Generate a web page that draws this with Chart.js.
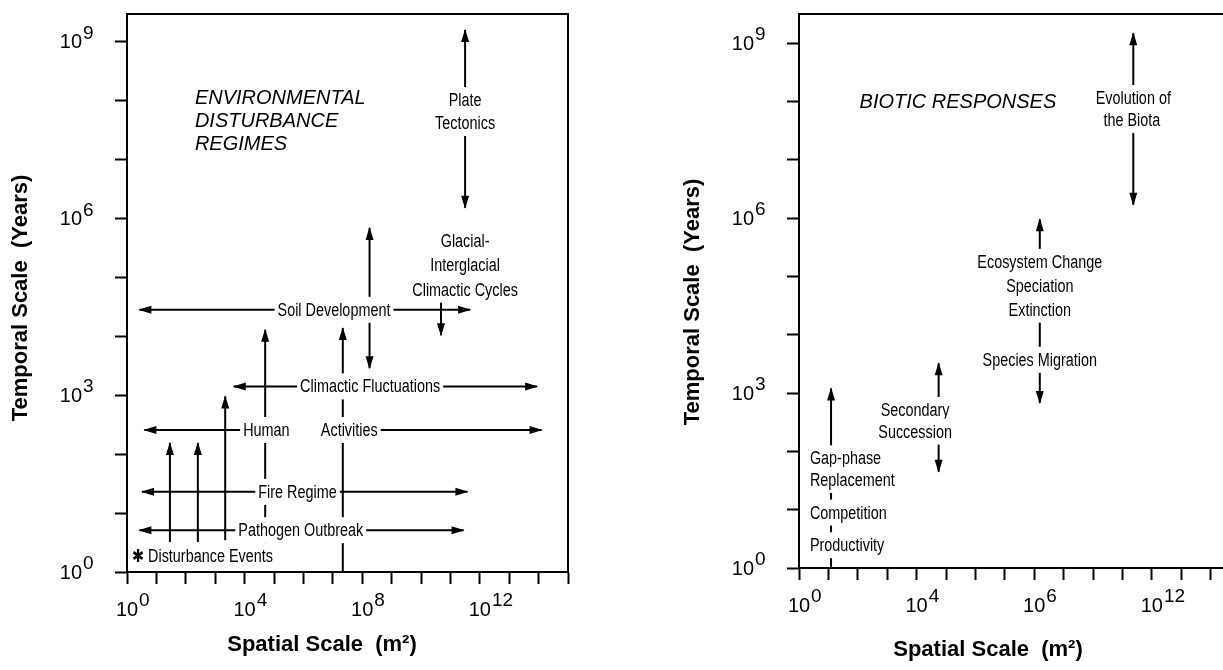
<!DOCTYPE html>
<html>
<head>
<meta charset="utf-8">
<script src="https://cdn.jsdelivr.net/npm/chart.js@4/dist/chart.umd.min.js"></script>
<style>
  html, body { margin: 0; padding: 0; background: #fff; overflow: hidden; }
  #wrap { position: relative; width: 1223px; height: 670px; overflow: hidden; background: #fff; }
  canvas { position: absolute; top: 0; }
  #envChart { left: 0; }
  #bioChart { left: 612px; }
</style>
</head>
<body>
<div id="wrap">
  <canvas id="envChart" width="612" height="670"></canvas>
  <canvas id="bioChart" width="680" height="670"></canvas>
</div>
<script>
// every value below is a log10: x = spatial scale (m²), y = temporal scale (years)

// axes
const xDecades = [0, 1, 2, 3, 4, 5, 6, 7, 8, 9, 10, 11, 12, 13, 14, 15];
const yDecades = [0, 1, 2, 3, 4, 5, 6, 7, 8, 9];
const xLabelPowers = [0, 4, 8, 12];
const envXLabelText = ['0', '4', '8', '12'];
const bioXLabelText = ['0', '4', '6', '12']; // printed this way in the original
const yLabelPowers = [0, 3, 6, 9];
const yLabelText = ['0', '3', '6', '9'];
const envYTop = 9.47;
const bioYTop = 9.5;

// left panel: environmental disturbance regimes
const plateArrow = [[11.5, 6.18], [11.5, 9.2]];
const glacialArrow = [[10.68, 4.59], [10.68, 4.02]];
const soilArrow = [[0.42, 4.45], [11.67, 4.45]];
const soilVertArrow = [[8.25, 3.46], [8.25, 5.84]];
const climateArrow = [[3.63, 3.15], [13.95, 3.15]];
const humanLeftArrow = [[4.74, 2.41], [0.59, 2.41]];
const humanRightArrow = [[7.56, 2.41], [14.1, 2.41]];
const humanVertArrow = [[4.7, 0.41], [4.7, 4.11]];
const activityVertArrow = [[7.34, 0], [7.34, 4.14]];
const fireArrow = [[0.51, 1.36], [11.58, 1.36]];
const pathogenArrow = [[0.42, 0.71], [11.45, 0.71]];
const eventArrowA = [[1.46, 0.51], [1.46, 2.19]];
const eventArrowB = [[2.41, 0.51], [2.41, 2.19]];
const eventArrowC = [[3.34, 0.54], [3.34, 2.98]];

const envLabels = [
    ['Plate', 11.5, 8.01], ['Tectonics', 11.5, 7.62],
    ['Glacial-', 11.5, 5.61], ['Interglacial', 11.5, 5.21], ['Climactic Cycles', 11.5, 4.79],
    ['Soil Development', 7.04, 4.45],
    ['Climactic Fluctuations', 8.27, 3.15],
    ['Human', 4.74, 2.41], ['Activities', 7.56, 2.41],
    ['Fire Regime', 5.8, 1.36],
    ['Pathogen Outbreak', 5.91, 0.71],
    ['\u2731 Disturbance Events', 0.17, 0.27, 'left']
];
const envTitle = ['ENVIRONMENTAL', 'DISTURBANCE', 'REGIMES'];
const envTitleY = [8.05, 7.66, 7.28];
const envTitleX = 2.31;

// right panel: biotic responses
const evolutionArrow = [[11.37, 6.23], [11.37, 9.17]];
const ecosystemArrow = [[8.19, 2.83], [8.19, 5.98]];
const successionArrow = [[4.75, 1.65], [4.75, 3.51]];
const gapArrow = [[1.09, 0], [1.09, 3.08]];

const bioLabels = [
    ['Evolution of', 11.37, 8.06], ['the Biota', 11.32, 7.68],
    ['Ecosystem Change', 8.19, 5.25], ['Speciation', 8.19, 4.83], ['Extinction', 8.19, 4.43],
    ['Species Migration', 8.19, 3.57],
    ['Secondary', 3.95, 2.71], ['Succession', 3.95, 2.34],
    ['Gap-phase', 0.37, 1.88, 'left'], ['Replacement', 0.37, 1.51, 'left'],
    ['Competition', 0.37, 0.95, 'left'], ['Productivity', 0.37, 0.39, 'left']
];
const bioTitle = ['BIOTIC RESPONSES'];
const bioTitleY = [8.0];
const bioTitleX = 2.06;

const FONT = '"Liberation Sans", Arial, Helvetica, "DejaVu Sans", sans-serif';
const SQUEEZE = 0.8; // the labels are set in a condensed face

function arrowSet(points, head) {
    return {
        data: points.map(p => ({ x: 10 ** p[0], y: 10 ** p[1] })),
        head: head,
        showLine: true,
        borderColor: '#000',
        borderWidth: 2,
        pointRadius: 0,
        fill: false,
        tension: 0
    };
}

function drawHead(ctx, from, to) {
    const dx = to.x - from.x, dy = to.y - from.y;
    const len = Math.hypot(dx, dy) || 1;
    const ux = dx / len, uy = dy / len;
    ctx.beginPath();
    ctx.moveTo(to.x + ux, to.y + uy);
    ctx.lineTo(to.x - ux * 12 - uy * 4, to.y - uy * 12 + ux * 4);
    ctx.lineTo(to.x - ux * 12 + uy * 4, to.y - uy * 12 - ux * 4);
    ctx.closePath();
    ctx.fill();
}

function drawLabel(ctx, text, x, y, align) {
    ctx.font = '18px ' + FONT;
    const w = ctx.measureText(text).width * SQUEEZE;
    const x0 = align === 'left' ? x : x - w / 2;
    ctx.fillStyle = '#fff';
    ctx.fillRect(x0 - 3, y - 13, w + 6, 26);
    ctx.fillStyle = '#000';
    ctx.save();
    ctx.translate(x0, y + 1);
    ctx.scale(SQUEEZE, 1);
    ctx.textAlign = 'left';
    ctx.textBaseline = 'middle';
    ctx.fillText(text, 0, 0);
    ctx.restore();
}

function drawPower(ctx, exp, x, y, anchor) {
    ctx.font = '20px ' + FONT;
    ctx.textAlign = 'left';
    ctx.textBaseline = 'middle';
    const bw = ctx.measureText('10').width;
    const bx = anchor === 'right' ? x - bw : x - bw / 2;
    ctx.fillText('10', bx, y);
    ctx.font = '19px ' + FONT;
    ctx.fillText(exp, bx + bw + 1, y - 9);
}

const panels = {
    envChart: {
        labels: envLabels, title: envTitle, titleY: envTitleY, titleX: envTitleX,
        xText: envXLabelText, xTitleDx: 195, xTitleDy: 73, yTitleDy: 5
    },
    bioChart: {
        labels: bioLabels, title: bioTitle, titleY: bioTitleY, titleX: bioTitleX,
        xText: bioXLabelText, xTitleDx: 189, xTitleDy: 82, yTitleDy: 11
    }
};

const diagramPlugin = {
    id: 'diagram',
    afterDatasetsDraw(chart) {
        const ctx = chart.ctx;
        const area = chart.chartArea;
        const xs = chart.scales.x, ys = chart.scales.y;
        const spec = panels[chart.canvas.id];
        ctx.save();

        // top and right edges of the frame
        ctx.strokeStyle = '#000';
        ctx.lineWidth = 2;
        ctx.beginPath();
        ctx.moveTo(area.left - 1, area.top);
        ctx.lineTo(area.right, area.top);
        ctx.lineTo(area.right, area.bottom);
        ctx.stroke();

        // arrowheads on the line ends
        ctx.fillStyle = '#000';
        chart.data.datasets.forEach((ds, i) => {
            const pts = chart.getDatasetMeta(i).data;
            if (ds.head === 'end' || ds.head === 'both') drawHead(ctx, pts[0], pts[1]);
            if (ds.head === 'start' || ds.head === 'both') drawHead(ctx, pts[1], pts[0]);
        });

        // labels sit on white so the lines break around them
        spec.labels.forEach(l => {
            drawLabel(ctx, l[0], xs.getPixelForValue(10 ** l[1]), ys.getPixelForValue(10 ** l[2]), l[3]);
        });

        // panel title
        ctx.fillStyle = '#000';
        ctx.font = 'italic 20px ' + FONT;
        ctx.textAlign = 'left';
        ctx.textBaseline = 'middle';
        spec.title.forEach((t, i) => {
            ctx.fillText(t, xs.getPixelForValue(10 ** spec.titleX), ys.getPixelForValue(10 ** spec.titleY[i]) + 1);
        });

        // tick labels as 10 with a raised exponent
        yLabelPowers.forEach((p, i) => {
            drawPower(ctx, yLabelText[i], area.left - 45, ys.getPixelForValue(10 ** p) + 1, 'right');
        });
        xLabelPowers.forEach((p, i) => {
            drawPower(ctx, spec.xText[i], xs.getPixelForValue(10 ** p), area.bottom + 38, 'center');
        });

        // axis titles
        ctx.font = 'bold 22px ' + FONT;
        ctx.textAlign = 'center';
        ctx.fillText('Spatial Scale  (m\u00b2)', area.left + spec.xTitleDx, area.bottom + spec.xTitleDy);
        ctx.translate(area.left - 106, (area.top + area.bottom) / 2 + spec.yTitleDy);
        ctx.rotate(-Math.PI / 2);
        ctx.fillText('Temporal Scale  (Years)', 0, 0);

        ctx.restore();
    }
};

function makeChart(id, datasets, yTop, yAxisWidth, xAxisHeight, padRight) {
    const tickGrid = {
        drawOnChartArea: false,
        drawTicks: true,
        tickLength: 12,
        tickColor: '#000',
        tickWidth: 2
    };
    return new Chart(document.getElementById(id), {
        type: 'scatter',
        data: { datasets: datasets },
        options: {
            responsive: false,
            animation: false,
            devicePixelRatio: 1,
            events: [],
            layout: { autoPadding: false, padding: { left: 0, top: 14, right: padRight, bottom: 0 } },
            plugins: { legend: { display: false }, tooltip: { enabled: false } },
            scales: {
                x: {
                    type: 'logarithmic',
                    min: 1,
                    max: 10 ** 15,
                    bounds: 'data',
                    afterBuildTicks: s => { s.ticks = xDecades.map(p => ({ value: 10 ** p })); },
                    afterFit: s => { s.height = xAxisHeight; },
                    ticks: { display: false, autoSkip: false },
                    grid: tickGrid,
                    border: { display: true, color: '#000', width: 2 }
                },
                y: {
                    type: 'logarithmic',
                    min: 1,
                    max: 10 ** yTop,
                    bounds: 'data',
                    afterBuildTicks: s => { s.ticks = yDecades.map(p => ({ value: 10 ** p })); },
                    afterFit: s => { s.width = yAxisWidth; },
                    ticks: { display: false, autoSkip: false },
                    grid: tickGrid,
                    border: { display: true, color: '#000', width: 2 }
                }
            }
        },
        plugins: [diagramPlugin]
    });
}

makeChart('envChart', [
    arrowSet(plateArrow, 'both'),
    arrowSet(glacialArrow, 'end'),
    arrowSet(soilArrow, 'both'),
    arrowSet(soilVertArrow, 'both'),
    arrowSet(climateArrow, 'both'),
    arrowSet(humanLeftArrow, 'end'),
    arrowSet(humanRightArrow, 'end'),
    arrowSet(humanVertArrow, 'end'),
    arrowSet(activityVertArrow, 'end'),
    arrowSet(fireArrow, 'both'),
    arrowSet(pathogenArrow, 'both'),
    arrowSet(eventArrowA, 'end'),
    arrowSet(eventArrowB, 'end'),
    arrowSet(eventArrowC, 'end')
], envYTop, 127, 98, 44);

makeChart('bioChart', [
    arrowSet(evolutionArrow, 'both'),
    arrowSet(ecosystemArrow, 'both'),
    arrowSet(successionArrow, 'both'),
    arrowSet(gapArrow, 'end')
], bioYTop, 187, 102, 52);
</script>
</body>
</html>
